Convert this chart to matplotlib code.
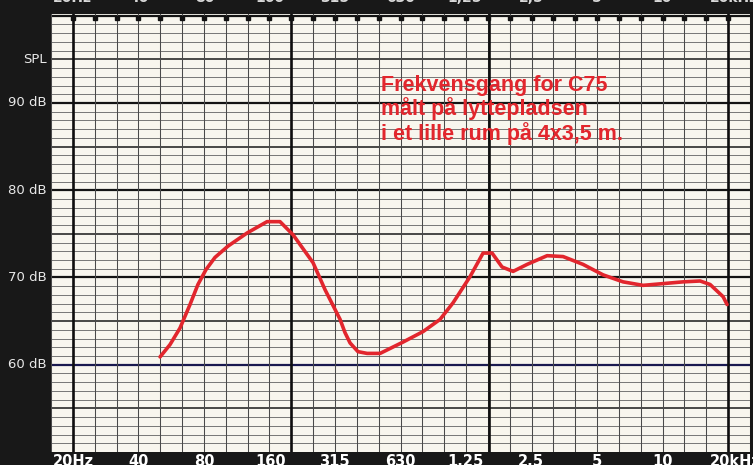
import matplotlib
matplotlib.use("Agg")
import matplotlib.pyplot as plt

# ---- data ----
freq_hz = [50.1, 55.6, 61.8, 68.7, 74.7, 81.3, 89.4, 102.6, 125.4, 154.8,
           177.5, 203.6, 251.4, 285.4, 334.4, 352.0, 371.5, 404, 444.6, 509.9,
           649.8, 802, 960, 1101, 1317, 1511, 1661, 1846, 2074, 2403,
           2968, 3512, 4338, 5358, 6614, 8168, 10086, 12454, 14902, 16558,
           18992, 19812]
spl_db = [60.9, 62.3, 64.2, 66.9, 69.2, 70.9, 72.3, 73.6, 75.1, 76.4,
          76.4, 74.9, 71.7, 68.6, 65.2, 63.7, 62.5, 61.5, 61.3, 61.3,
          62.6, 63.8, 65.2, 67.1, 70.1, 72.8, 72.8, 71.2, 70.7, 71.5,
          72.5, 72.4, 71.5, 70.3, 69.5, 69.1, 69.3, 69.5, 69.6, 69.2,
          67.8, 66.9]

x_tick_freqs = [20, 40, 80, 160, 315, 630, 1250, 2500, 5000, 10000, 20000]
x_bottom_labels = ["20Hz", "40", "80", "160", "315", "630", "1.25", "2.5", "5", "10", "20kHz"]
x_top_labels = ["20Hz", "40", "80", "160", "315", "630", "1,25", "2,5", "5", "10", "20kHz"]
y_tick_values = [95, 90, 80, 70, 60]
y_tick_labels = ["SPL", "90 dB", "80 dB", "70 dB", "60 dB"]
thick_v_freqs = [20, 200, 1600, 20000]
title_lines = ["Frekvensgang for C75", "målt på lyttepladsen", "i et lille rum på 4x3,5 m."]

W, H = 753, 465
BG = "#181818"
PAPER = "#f8f6ee"
RED = "#e2262d"

fig = plt.figure(figsize=(W / 100, H / 100), dpi=100, facecolor=BG)

def fx(px):
    return px / W

def fy(py):
    return 1 - py / H

left, right, top, bottom = 51, 750, 14, 452
ax = fig.add_axes([fx(left), fy(bottom), fx(right) - fx(left), fy(top) - fy(bottom)])
ax.set_facecolor(PAPER)
ax.set_xscale("log")
ppd = (728 - 73) / 3.0
ax.set_xlim(20 * 10 ** (-(73 - left) / ppd), 20000 * 10 ** ((right - 728) / ppd))
ax.set_ylim(50, 100.2)
for s in ax.spines.values():
    s.set_visible(False)
ax.set_xticks([])
ax.set_yticks([])
ax.minorticks_off()

# horizontal grid
for d in range(51, 101):
    if d % 10 == 0:
        col = "#1a1a50" if d == 60 else "#141414"
        ax.axhline(d, color=col, lw=1.6, zorder=1)
    elif d % 5 == 0:
        ax.axhline(d, color="#2a2a2a", lw=1.2, zorder=1)
    else:
        ax.axhline(d, color="#6e6e6e", lw=0.65, zorder=1)

# vertical third-octave grid
third_oct = [20 * 10 ** (k / 10) for k in range(-1, 32)]
for f in third_oct:
    ax.axvline(f, color="#4a4a4a", lw=0.75, zorder=1)
for f in thick_v_freqs:
    ax.axvline(f, color="#0e0e0e", lw=1.9, zorder=2)
marks = [20 * 10 ** (k / 10) for k in range(0, 31)]
ax.plot(marks, [99.75] * len(marks), "s", color="#111111", ms=3.0, zorder=3, clip_on=False)

# response curve
ax.plot(freq_hz, spl_db, color=RED, lw=2.6, solid_capstyle="round", solid_joinstyle="round", zorder=5)

# annotation
tx = fx(381)
for line, by in zip(title_lines, [91, 115, 140]):
    fig.text(tx, fy(by), line, color=RED, fontsize=15.5, fontweight="bold",
             family="Liberation Sans", ha="left", va="baseline")

# left labels
for v, lab in zip(y_tick_values, y_tick_labels):
    ax.text(-0.006, v, lab, transform=ax.get_yaxis_transform(), ha="right", va="center",
            color="#e8e8e8", fontsize=9.5, family="DejaVu Sans")

# bottom and top labels
for i, (f, lb, lt) in enumerate(zip(x_tick_freqs, x_bottom_labels, x_top_labels)):
    if i == 0:
        ha, xf = "left", 20 * 10 ** (-(73 - 53) / ppd)
    elif i == len(x_tick_freqs) - 1:
        ha, xf = "left", 20000 * 10 ** (-(728 - 710) / ppd)
    else:
        ha, xf = "center", f
    xpx = ax.transData.transform((xf, 60))[0]
    fig.text(xpx / W, fy(454), lb, color="white", fontsize=10.5, fontweight="bold",
             family="DejaVu Sans", ha=ha, va="top")
    fig.text(xpx / W, fy(2), lt, color="#d8d8d8", fontsize=10, fontweight="bold",
             family="DejaVu Sans", ha=ha, va="baseline")

fig.savefig("out.png", dpi=100, facecolor=BG)
